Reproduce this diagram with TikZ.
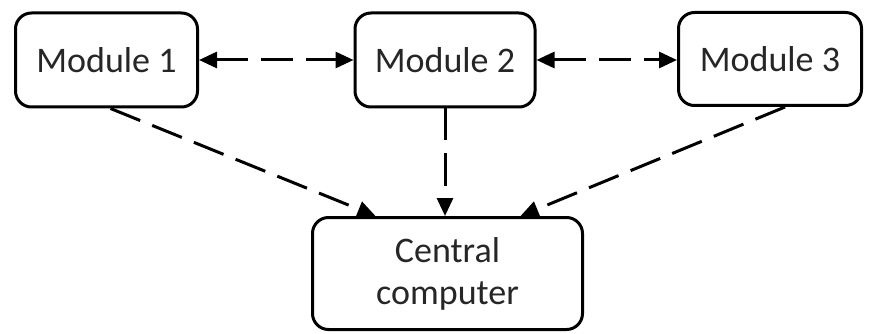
\documentclass[tikz,border=0pt]{standalone}
\usepackage{fontspec}
\setmainfont{Carlito}
\usetikzlibrary{arrows.meta}
\begin{document}
\begin{tikzpicture}[x=1pt,y=-1pt,
  box/.style={draw, line width=3pt, rounded corners=16pt, align=center,
    font=\fontsize{36}{42}\selectfont, text=black!85, inner sep=0pt},
  link/.style={line width=3pt, dash pattern=on 32pt off 13pt,
    arrows={-Triangle[length=18pt,width=16pt]}},
  dlink/.style={link, arrows={Triangle[length=18pt,width=16pt]-Triangle[length=18pt,width=16pt]}}]
\useasboundingbox[fill=white] (0,0) rectangle (870,334);
\node[box, minimum width=182pt, minimum height=94pt] (m1) at (106.5,60) {Module 1};
\node[box, minimum width=180pt, minimum height=94pt] (m2) at (445,60) {Module 2};
\node[box, minimum width=183pt, minimum height=93pt] (m3) at (770,59) {Module 3};
\node[box, minimum width=270pt, minimum height=112pt] (cc) at (447.5,273.5) {Central\\computer};
\draw[dlink] (m1.east) -- (m2.west);
\draw[dlink] (m2.east) -- (m3.west |- m2.east);
\draw[link] ([xshift=4pt]m1.south) -- ([xshift=-72pt]cc.north);
\draw[link] (m2.south) -- (m2.south |- cc.north);
\draw[link] ([xshift=15pt]m3.south) -- ([xshift=73pt]cc.north);
\end{tikzpicture}
\end{document}
